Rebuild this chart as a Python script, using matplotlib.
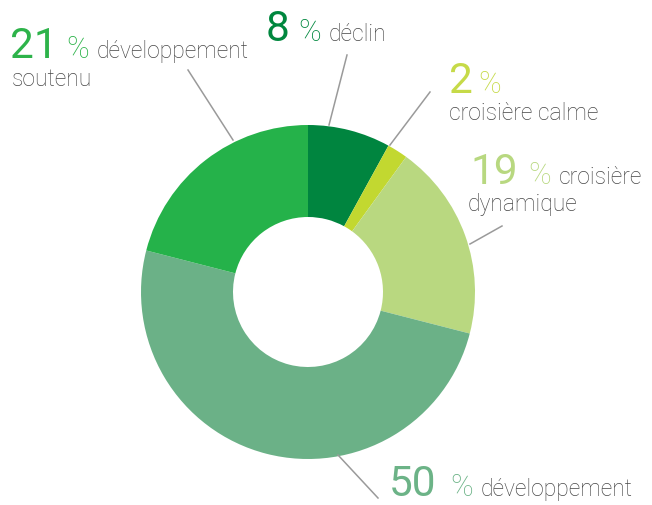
import matplotlib
matplotlib.use('Agg')
import matplotlib.pyplot as plt

# data
labels = ['déclin', 'croisière calme', 'croisière dynamique', 'développement', 'développement soutenu']
values = [8, 2, 19, 50, 21]
colors = ['#00853F', '#C2D830', '#B9D880', '#6BB187', '#25B24A']
num_colors = ['#00873E', '#C6DA48', '#B8D880', '#6CB387', '#2DB34A']

W, H = 652, 505
plt.rcParams['font.family'] = ['Roboto', 'DejaVu Sans']

fig = plt.figure(figsize=(W / 100, H / 100), dpi=100)
ax = fig.add_axes([0, 0, 1, 1])

def Y(y):
    return H - y

cx, cy, r = 308, 292, 167
ax.pie(values, colors=colors, startangle=90, counterclock=False,
       center=(cx, Y(cy)), radius=r, frame=True,
       wedgeprops=dict(width=r - 75, linewidth=0))
ax.set_xlim(0, W)
ax.set_ylim(0, H)
ax.set_aspect('equal')
ax.axis('off')

# leader lines (pixel layout)
leaders = [
    ((347, 55), (329, 125)),
    ((430, 92), (390, 145)),
    ((502, 226), (470, 244)),
    ((378, 498), (338, 455)),
    ((188, 70), (233, 140)),
]
for (x0, y0), (x1, y1) in leaders:
    ax.plot([x0, x1], [Y(y0), Y(y1)], color='#9A9A9A', lw=1.1)

gray = '#474747'
big, pct, small = 30.5, 22, 16.5

def label(num, col, xn, xp, yb, text_parts):
    ax.text(xn, Y(yb), num, color=col, fontsize=big, fontweight='normal', va='baseline', ha='left')
    ax.text(xp, Y(yb), '%', color=col, fontsize=pct, fontweight='light', va='baseline', ha='left')
    for (tx, ty, t) in text_parts:
        ax.text(tx, Y(ty), t, color=gray, fontsize=small, fontweight='light', va='baseline', ha='left')

label(str(values[4]), num_colors[4], 10, 66, 58, [(97, 58, 'développement'), (12, 86, 'soutenu')])
label(str(values[0]), num_colors[0], 266, 298, 41, [(329, 41, labels[0])])
label(str(values[1]), num_colors[1], 449, 478, 93, [(449, 120, labels[1])])
label(str(values[2]), num_colors[2], 470, 528, 184, [(559, 184, 'croisière'), (468, 211, 'dynamique')])
label(str(values[3]), num_colors[3], 389, 450, 496, [(481, 496, labels[3])])

fig.savefig('out.png', dpi=100)
